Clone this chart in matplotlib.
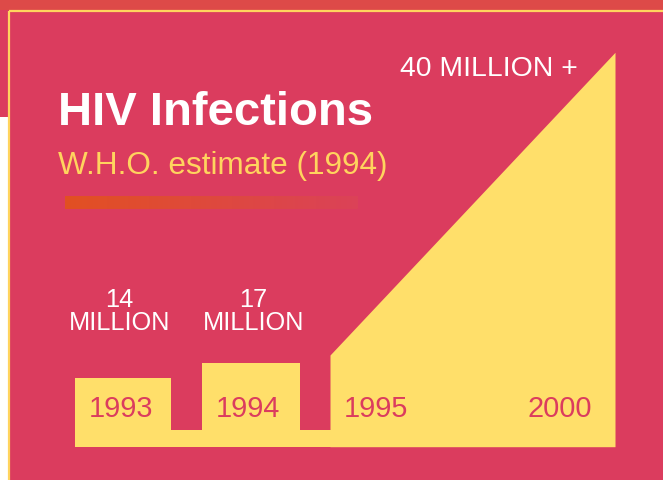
import matplotlib
matplotlib.use("Agg")
import matplotlib.pyplot as plt
import numpy as np
from matplotlib.patches import Rectangle

# ---- data ----
years = ["1993", "1994", "1995", "2000"]
bar_values = [14, 17]                 # millions (1993, 1994)
bar_labels = ["14", "17"]
area_heights = [18.6, 80]             # drawn heights of growth area at 1995 and 2000
top_label = "40 MILLION +"
title = "HIV Infections"
subtitle = "W.H.O. estimate (1994)"

# ---- style ----
CRIMSON = "#DB3C5E"
YELLOW = "#FFDF6A"
BORDER = "#FFD45E"
TOPSTRIP = "#DD4A48"
FONT = "Liberation Sans"

W, H = 663, 480
fig = plt.figure(figsize=(W / 100, H / 100), dpi=100)
fig.patch.set_facecolor("white")

# background decoration axes in pixel coordinates
bg = fig.add_axes([0, 0, 1, 1])
bg.set_xlim(0, W)
bg.set_ylim(H, 0)
bg.axis("off")
bg.add_patch(Rectangle((0, 0), W, 11, color=TOPSTRIP, lw=0))
bg.add_patch(Rectangle((0, 10), 10, 107, color=CRIMSON, lw=0))
bg.add_patch(Rectangle((9, 11), W, H, color=CRIMSON, lw=0))
bg.plot([8.5, 8.5], [10.5, H], color=BORDER, lw=1.6, solid_capstyle="butt")
bg.plot([8.5, W], [10.5, 10.5], color=BORDER, lw=1.6, solid_capstyle="butt")

# gradient bar under subtitle
grad = np.linspace(0, 1, 256).reshape(1, -1)
c0 = np.array([226, 80, 34]) / 255
c1 = np.array([219, 66, 88]) / 255
img = c0[None, None, :] * (1 - grad[..., None]) + c1[None, None, :] * grad[..., None]
bg.imshow(img, extent=(65, 358, 209, 196), aspect="auto", zorder=2)
bg.set_xlim(0, W)
bg.set_ylim(H, 0)

bg.text(58, 125, title, color="white", fontsize=34, fontweight="bold",
        family=FONT, va="baseline", ha="left")
bg.text(58, 174, subtitle, color=BORDER, fontsize=22.7, family=FONT,
        va="baseline", ha="left")

# ---- data axes ----
px_per_m = 4.93
base_px = 446.7
ax = fig.add_axes([75 / W, (H - base_px) / H, 540 / W, base_px / H])
ax.set_xlim(0, 540)
ax.set_ylim(0, base_px / px_per_m)
ax.axis("off")
ax.patch.set_alpha(0)

bar_left = [0, 127]
bar_width = [96, 98]
area_x = [255, 540]
band = 3.4

ax.axhspan(0, band, color=YELLOW, lw=0)
ax.bar(bar_left, bar_values, width=bar_width, align="edge", color=YELLOW, lw=0)
ax.fill_between(area_x, 0, area_heights, color=YELLOW, lw=0)

label_x = [45.5, 173, 301, 485]
for x, yr in zip(label_x, years):
    ax.text(x, 6.0, yr, color=CRIMSON, fontsize=20.8, family=FONT,
            ha="center", va="baseline")

for x, lab in zip([44.5, 178.5], bar_labels):
    ax.text(x, 28.4, lab, color="white", fontsize=18.3, family=FONT,
            ha="center", va="baseline")
    ax.text(x, 23.7, "MILLION", color="white", fontsize=18.3, family=FONT,
            ha="center", va="baseline")

ax.text(503, 75.2, top_label, color="white", fontsize=20.4, family=FONT,
        ha="right", va="baseline")

fig.savefig("out.png", dpi=100, facecolor=fig.get_facecolor())
